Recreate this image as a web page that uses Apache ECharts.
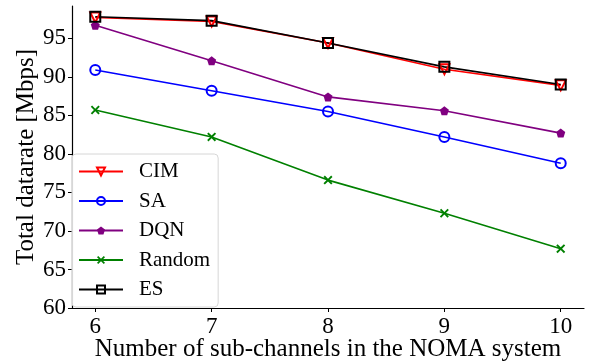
<!DOCTYPE html>
<html><head><meta charset="utf-8">
<script src="https://cdn.jsdelivr.net/npm/echarts@6/dist/echarts.min.js"></script>
<style>html,body{margin:0;padding:0;background:#fff}#c{width:601px;height:364px}</style>
</head><body><div id="c"></div>
<script>
const xValues = [6, 7, 8, 9, 10];
const cim = [97.7, 97.2, 94.4, 91.0, 88.9];
const sa = [90.9, 88.2, 85.5, 82.2, 78.8];
const dqn = [96.7, 92.1, 87.4, 85.6, 82.7];
const rnd = [85.7, 82.2, 76.6, 72.3, 67.7];
const es = [97.8, 97.3, 94.4, 91.3, 89.0];
const yTicks = [60, 65, 70, 75, 80, 85, 90, 95];

const font = 'Liberation Serif';
const pent = 'path://M0,-1 L0.951,-0.309 L0.588,0.809 L-0.588,0.809 L-0.951,-0.309 Z';
const xMark = 'path://M-1,-0.7 L-0.7,-1 L0,-0.3 L0.7,-1 L1,-0.7 L0.3,0 L1,0.7 L0.7,1 L0,0.3 L-0.7,1 L-1,0.7 L-0.3,0 Z';
const pts = a => xValues.map((x, i) => [x, a[i]]);

function mk(name, data, color, symbol, size, filled, rotate) {
  return {
    name, type: 'line', data: pts(data), symbol, symbolSize: size, symbolRotate: rotate || 0,
    lineStyle: { color, width: 1.6 },
    itemStyle: filled ? { color, borderWidth: 0 } : { color: 'rgba(255,255,255,0)', borderColor: color, borderWidth: 2 },
    emphasis: { disabled: true }, animation: false
  };
}

const chart = echarts.init(document.getElementById('c'));
chart.setOption({
  animation: false,
  grid: { left: 72, right: 17, top: 6, bottom: 56, containLabel: false, outerBoundsMode: 'none' },
  xAxis: {
    type: 'value', min: 5.8, max: 10.2,
    name: 'Number of sub-channels in the NOMA system', nameLocation: 'middle', nameGap: 29, nameMoveOverlap: false,
    nameTextStyle: { fontFamily: font, fontSize: 25, color: '#000' },
    axisLine: { lineStyle: { color: '#000', width: 1.2 } },
    axisTick: { show: true, customValues: xValues, length: 4, lineStyle: { color: '#000' } },
    axisLabel: { customValues: xValues, fontFamily: font, fontSize: 23, color: '#000', margin: 7 },
    splitLine: { show: false }
  },
  yAxis: {
    type: 'value', min: 60, max: 99.2,
    name: 'Total datarate [Mbps]', nameLocation: 'middle', nameGap: 33, nameMoveOverlap: false,
    nameTextStyle: { fontFamily: font, fontSize: 25, color: '#000' },
    axisLine: { show: true, lineStyle: { color: '#000', width: 1.2 } },
    axisTick: { show: true, customValues: yTicks, length: 4, lineStyle: { color: '#000' } },
    axisLabel: { customValues: yTicks, fontFamily: font, fontSize: 23, color: '#000', margin: 6 },
    splitLine: { show: false }
  },
  legend: {
    orient: 'vertical', left: 72, top: 154,
    padding: [7, 8, 7, 6], itemGap: 8.5, itemWidth: 44, itemHeight: 10,
    borderColor: '#d6d6d6', borderWidth: 1, borderRadius: 4, backgroundColor: 'rgba(255,255,255,0.85)',
    textStyle: { fontFamily: font, fontSize: 21, color: '#000', lineHeight: 20, padding: [0, 0, 0, 11] },
    data: ['CIM', 'SA', 'DQN', 'Random', 'ES']
  },
  series: [
    mk('CIM', cim, '#ff0000', 'triangle', 10, false, 180),
    mk('SA', sa, '#0000ff', 'circle', 10, false),
    mk('DQN', dqn, '#800080', pent, 9, true),
    mk('Random', rnd, '#008000', xMark, 9, true),
    mk('ES', es, '#000000', 'rect', 10, false)
  ]
});
</script></body></html>
